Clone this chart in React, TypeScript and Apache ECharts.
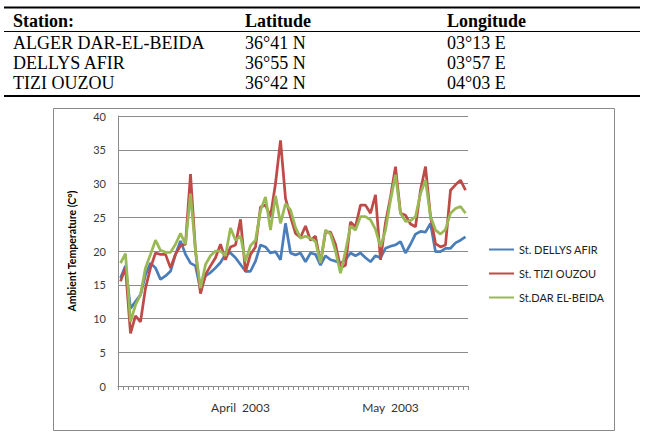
import React, { useEffect, useRef } from "react";
import * as echarts from "echarts";

// Daily ambient temperatures (°C), 22 March – 30 May 2003
const dellysAfir = [
  16.0, 17.8, 11.5, 12.5, 13.5, 16.5, 18.2, 17.5, 15.8, 16.3,
  17.0, 19.5, 21.5, 19.5, 18.2, 17.8, 14.3, 16.3, 16.8, 17.5,
  18.3, 19.5, 19.7, 19.0, 18.0, 17.0, 17.0, 18.5, 20.9, 20.6,
  19.7, 19.9, 18.7, 24.1, 19.7, 19.4, 19.7, 18.4, 19.7, 19.5,
  17.9, 19.3, 18.7, 18.5, 18.2, 18.7, 19.7, 19.3, 19.7, 19.0,
  18.4, 19.3, 19.0, 20.4, 20.7, 20.9, 21.4, 19.7, 21.0, 22.5,
  22.9, 22.8, 24.1, 19.9, 19.9, 20.4, 20.4, 21.2, 21.6, 22.1,
];
const tiziOuzou = [
  15.5, 17.5, 7.8, 10.4, 9.5, 14.5, 17.5, 19.7, 19.5, 19.5,
  17.5, 19.5, 20.8, 21.0, 31.4, 20.0, 13.7, 16.5, 17.8, 19.0,
  21.0, 18.7, 20.6, 20.9, 24.7, 16.9, 19.5, 20.6, 26.5, 26.8,
  25.1, 30.0, 36.4, 27.8, 25.1, 22.6, 22.0, 23.7, 21.6, 22.2,
  18.2, 22.8, 22.8, 21.0, 17.5, 17.9, 24.3, 23.6, 26.8, 26.8,
  25.6, 28.3, 18.7, 24.2, 28.0, 32.5, 25.6, 25.3, 24.0, 23.6,
  29.0, 32.5, 25.1, 21.1, 20.6, 20.9, 29.0, 29.8, 30.5, 29.0,
];
const darElBeida = [
  18.2, 19.6, 9.5, 12.0, 13.5, 17.5, 19.5, 21.6, 20.1, 19.8,
  19.8, 21.0, 22.6, 21.0, 28.5, 20.0, 14.5, 18.0, 19.3, 20.0,
  20.0, 19.3, 23.4, 21.6, 22.2, 18.5, 20.8, 21.6, 26.0, 28.0,
  23.1, 28.2, 24.1, 27.0, 26.1, 23.5, 21.9, 22.2, 21.9, 21.4,
  18.2, 23.1, 22.5, 20.0, 16.7, 20.0, 23.7, 23.1, 25.1, 25.1,
  24.6, 23.2, 20.6, 23.1, 27.5, 31.3, 25.6, 24.4, 24.5, 25.1,
  28.5, 30.5, 25.1, 23.1, 22.5, 23.2, 25.6, 26.3, 26.6, 25.6,
];

const seriesNames = ["St. DELLYS AFIR", "St. TIZI OUZOU", "St.DAR EL-BEIDA"];
const seriesColors = ["#4A7EBB", "#BE4B48", "#98B954"];

// Month labels on the date axis
const monthLabelDays = ["2003-04-15", "2003-05-15"];
const monthLabels = ["April  2003", "May  2003"];

// Station table
const tableHeader = ["Station:", "Latitude", "Longitude"];
const stationNames = ["ALGER DAR-EL-BEIDA", "DELLYS AFIR", "TIZI OUZOU"];
const stationLatitudes = ["36°41 N", "36°55 N", "36°42 N"];
const stationLongitudes = ["03°13 E", "03°57 E", "04°03 E"];

const firstDay = Date.UTC(2003, 2, 22);
const days: string[] = dellysAfir.map((_, i) =>
  new Date(firstDay + i * 86400000).toISOString().slice(0, 10)
);

const SERIF = '"Liberation Serif", "Times New Roman", serif';
const SANS = 'Lato, "Open Sans", Arial, sans-serif';

export default function App() {
  const ref = useRef<HTMLDivElement>(null);

  useEffect(() => {
    if (!ref.current) return;
    const chart = echarts.init(ref.current, undefined, { renderer: "svg" });

    const colX = [13, 245, 447];
    const rowY = [43, 63, 83];
    const tableTexts: any[] = [];
    tableHeader.forEach((h, c) =>
      tableTexts.push({
        type: "text",
        x: colX[c],
        y: 20.5,
        style: { text: h, font: `bold 18px ${SERIF}`, fill: "#000", verticalAlign: "middle" },
      })
    );
    [stationNames, stationLatitudes, stationLongitudes].forEach((col, c) =>
      col.forEach((t, r) =>
        tableTexts.push({
          type: "text",
          x: colX[c],
          y: rowY[r],
          style: { text: t, font: `18px ${SERIF}`, fill: "#000", verticalAlign: "middle" },
        })
      )
    );

    const rule = (y: number, w: number) => ({
      type: "line",
      shape: { x1: 4, y1: y, x2: 640, y2: y },
      style: { stroke: "#000", lineWidth: w },
    });

    chart.setOption({
      animation: false,
      backgroundColor: "#fff",
      graphic: [
        rule(7.5, 2),
        rule(31.5, 1),
        rule(96, 2),
        ...tableTexts,
        {
          type: "rect",
          shape: { x: 53.5, y: 108.5, width: 561, height: 322 },
          style: { fill: "none", stroke: "#8a8a8a", lineWidth: 1 },
        },
      ],
      grid: { left: 118, right: 178, top: 116, bottom: 47 },
      legend: {
        orient: "vertical",
        left: 484,
        top: 238,
        icon: "rect",
        itemWidth: 25,
        itemHeight: 2,
        itemGap: 11,
        textStyle: { fontFamily: SANS, fontSize: 11, color: "#222", lineHeight: 13 },
        data: seriesNames,
      },
      xAxis: {
        type: "category",
        data: days,
        boundaryGap: true,
        axisLine: { lineStyle: { color: "#8c8c8c", width: 1 } },
        axisTick: { show: true, interval: 0, length: 4, lineStyle: { color: "#8c8c8c" } },
        axisLabel: {
          interval: 0,
          margin: 15,
          fontFamily: SANS,
          fontSize: 12,
          color: "#333",
          formatter: (v: string) => {
            const k = monthLabelDays.indexOf(v);
            return k >= 0 ? monthLabels[k] : "";
          },
        },
        splitLine: { show: false },
      },
      yAxis: {
        type: "value",
        min: 0,
        max: 40,
        interval: 5,
        name: "Ambient Temperature (C°)",
        nameLocation: "middle",
        nameRotate: 90,
        nameGap: 41,
        nameTextStyle: { fontFamily: SANS, fontSize: 10.5, fontWeight: "bold", color: "#000" },
        axisLine: { show: true, lineStyle: { color: "#8c8c8c", width: 1 } },
        axisTick: { show: false },
        axisLabel: { margin: 12, fontFamily: SANS, fontSize: 11, color: "#3a3a3a" },
        splitLine: { lineStyle: { color: "#8c8c8c", width: 1 } },
      },
      series: [dellysAfir, tiziOuzou, darElBeida].map((d, i) => ({
        name: seriesNames[i],
        type: "line",
        data: d,
        symbol: "none",
        color: seriesColors[i],
        lineStyle: { width: 2.75, color: seriesColors[i] },
      })),
    });

    return () => chart.dispose();
  }, []);

  return (
    <div
      ref={ref}
      style={{ position: "absolute", left: 0, top: 0, width: 646, height: 433 }}
    />
  );
}
